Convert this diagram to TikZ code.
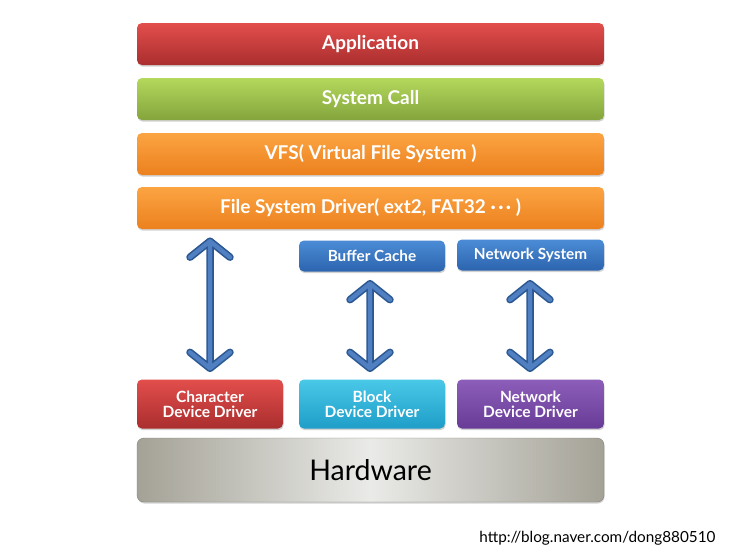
\documentclass[tikz,border=0pt]{standalone}
\usepackage{fontspec}
\setmainfont{Lato}
\usetikzlibrary{shadows,calc}
\definecolor{redT}{RGB}{226,78,76}
\definecolor{redB}{RGB}{170,46,46}
\definecolor{grnT}{RGB}{180,216,92}
\definecolor{grnB}{RGB}{132,164,60}
\definecolor{orgT}{RGB}{252,164,66}
\definecolor{orgB}{RGB}{236,128,30}
\definecolor{bluT}{RGB}{76,140,214}
\definecolor{bluB}{RGB}{44,100,174}
\definecolor{cyaT}{RGB}{74,200,232}
\definecolor{cyaB}{RGB}{30,158,200}
\definecolor{purT}{RGB}{140,94,186}
\definecolor{purB}{RGB}{104,60,150}
\definecolor{hwEdge}{RGB}{164,162,150}
\definecolor{hwMid}{RGB}{234,234,232}
\definecolor{arrowdark}{RGB}{44,88,146}
\definecolor{arrowfill}{RGB}{80,128,194}
\newcommand\twoway[2]{%
  \foreach \w/\c in {7.5/arrowdark,4.3/arrowfill}{%
    \draw[line width=\w pt, \c, line cap=round, line join=round]
      ($(#1)+(-20,16)$) -- (#1) -- ($(#1)+(20,16)$)
      (#1) -- (#2)
      ($(#2)+(-20,-16)$) -- (#2) -- ($(#2)+(20,-16)$);
  }}
\newcommand\mydots{·\kern2.5pt·\kern2.5pt·}
\begin{document}
\begin{tikzpicture}[x=1pt,y=-1pt,
  box/.style={rounded corners=5pt, inner sep=0pt, text=white, align=center,
    drop shadow={shadow xshift=0.6pt, shadow yshift=-1.6pt, opacity=0.35}},
  wide/.style={box, minimum width=467pt, minimum height=42pt,
    font=\bfseries\fontsize{19}{22}\selectfont},
  small/.style={box, minimum width=146pt, minimum height=31pt,
    font=\bfseries\fontsize{15.3}{17}\selectfont},
  drv/.style={box, minimum width=146pt, minimum height=49pt,
    font=\bfseries\fontsize{15.5}{15}\selectfont},
  redbox/.style={top color=redT, bottom color=redB},
  grnbox/.style={top color=grnT, bottom color=grnB},
  orgbox/.style={top color=orgT, bottom color=orgB},
  blubox/.style={top color=bluT, bottom color=bluB},
  cyabox/.style={top color=cyaT, bottom color=cyaB},
  purbox/.style={top color=purT, bottom color=purB}]
\useasboundingbox[fill=white] (0,0) rectangle (740,555);

\node[wide, redbox] (app) at (370.5,44) {Application};
\node[wide, grnbox] (sys) at (370.5,99) {System Call};
\node[wide, orgbox] (vfs) at (370.5,154) {VFS( Virtual File System )};
\node[wide, orgbox] (fsd) at (370.5,208) {File System Driver( ext2, FAT32 \mydots{} )};

\node[small, blubox] (buf) at (372,256) {Buffer Cache};
\node[small, blubox, minimum width=147pt] (net) at (530.5,255) {Network System};

\node[drv, redbox] (chr) at (210,404) {Character\\Device Driver};
\node[drv, cyabox] (blk) at (372,404) {Block\\Device Driver};
\node[drv, purbox, minimum width=147pt] (ndd) at (530.5,404) {Network\\Device Driver};

\node[box, minimum width=467pt, minimum height=64pt, rounded corners=7pt,
  left color=hwEdge, right color=hwEdge, middle color=hwMid,
  draw=hwEdge!80!black, line width=0.4pt, text=black,
  font=\fontsize{28.5}{32}\selectfont] (hw) at (370.5,470) {Hardware};

\coordinate (a1t) at ($(fsd.south -| chr.north)+(0,12)$);
\coordinate (a1b) at ($(chr.north)+(0,-11)$);
\coordinate (a2t) at ($(buf.south -| 370,0)+(0,12)$);
\coordinate (a2b) at ($(blk.north -| 370,0)+(0,-11)$);
\coordinate (a3t) at ($(net.south -| 530,0)+(0,13)$);
\coordinate (a3b) at ($(ndd.north -| 530,0)+(0,-11)$);
\twoway{a1t}{a1b}
\twoway{a2t}{a2b}
\twoway{a3t}{a3b}

\node[anchor=east, font=\fontsize{15.3}{17}\selectfont] (url) at (719,538) {http://blog.naver.com/dong880510};
\end{tikzpicture}
\end{document}
